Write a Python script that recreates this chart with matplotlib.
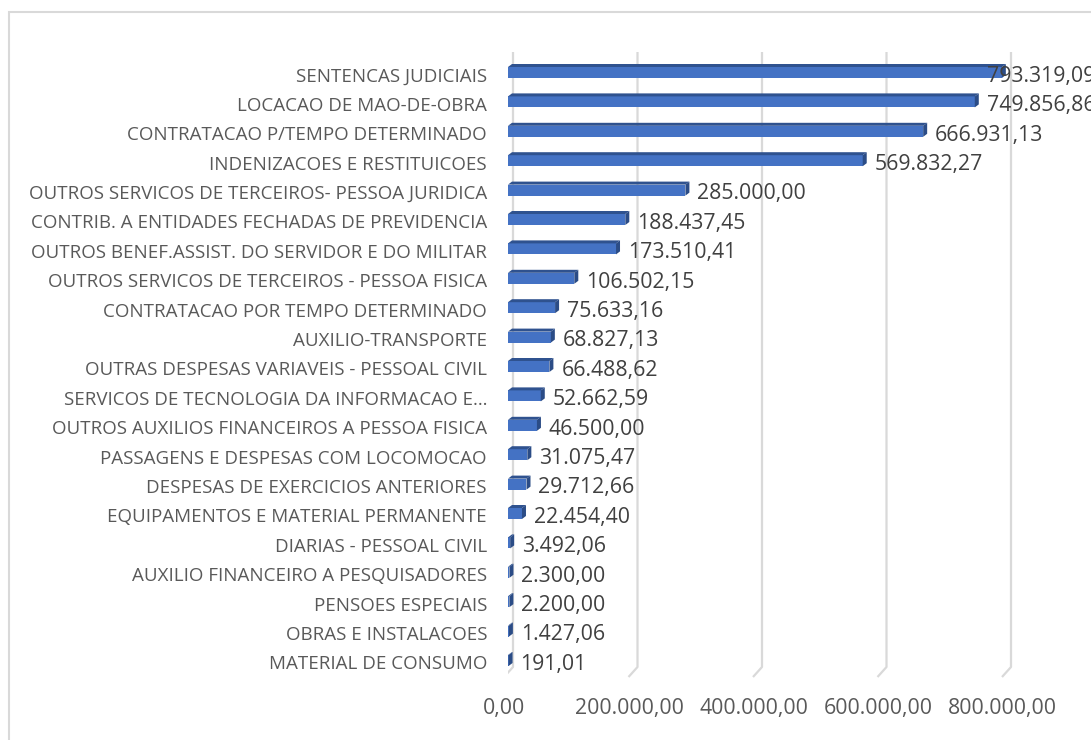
import matplotlib
matplotlib.use('Agg')
import matplotlib.pyplot as plt
from matplotlib.patches import Polygon, Rectangle
from matplotlib.transforms import ScaledTranslation

# --- datos ---
categorias = [
    'SENTENCAS JUDICIAIS',
    'LOCACAO DE MAO-DE-OBRA',
    'CONTRATACAO P/TEMPO DETERMINADO',
    'INDENIZACOES E RESTITUICOES',
    'OUTROS SERVICOS DE TERCEIROS- PESSOA JURIDICA',
    'CONTRIB. A ENTIDADES FECHADAS DE PREVIDENCIA',
    'OUTROS BENEF.ASSIST. DO SERVIDOR E DO MILITAR',
    'OUTROS SERVICOS DE TERCEIROS - PESSOA FISICA',
    'CONTRATACAO POR TEMPO DETERMINADO',
    'AUXILIO-TRANSPORTE',
    'OUTRAS DESPESAS VARIAVEIS - PESSOAL CIVIL',
    'SERVICOS DE TECNOLOGIA DA INFORMACAO E…',
    'OUTROS AUXILIOS FINANCEIROS A PESSOA FISICA',
    'PASSAGENS E DESPESAS COM LOCOMOCAO',
    'DESPESAS DE EXERCICIOS ANTERIORES',
    'EQUIPAMENTOS E MATERIAL PERMANENTE',
    'DIARIAS - PESSOAL CIVIL',
    'AUXILIO FINANCEIRO A PESQUISADORES',
    'PENSOES ESPECIAIS',
    'OBRAS E INSTALACOES',
    'MATERIAL DE CONSUMO',
]
valores = [793319.09, 749856.86, 666931.13, 569832.27, 285000.00, 188437.45,
           173510.41, 106502.15, 75633.16, 68827.13, 66488.62, 52662.59,
           46500.00, 31075.47, 29712.66, 22454.40, 3492.06, 2300.00,
           2200.00, 1427.06, 191.01]
ticks = [0, 200000, 400000, 600000, 800000]
tick_labels = ['0,00', '200.000,00', '400.000,00', '600.000,00', '800.000,00']


def fmt_br(v):
    s = f'{v:,.2f}'
    return s.replace(',', 'X').replace('.', ',').replace('X', '.')


W, H = 1091, 740
fig = plt.figure(figsize=(W / 100, H / 100), dpi=100)
plt.rcParams['font.family'] = ['Open Sans', 'DejaVu Sans']

# borde del grafico
fig.patches.append(Rectangle((8.5 / W, -0.02), 1.1, (H - 12) / H + 0.02,
                             transform=fig.transFigure, fill=False,
                             edgecolor='#D9D9D9', linewidth=1.5))

# eje: x px 508 = 0, y px 74 = cat 0, 29.4 px por categoria
x0px, ytop, ybot = 508, 40, 690
ax = fig.add_axes([x0px / W, 1 - ybot / H, (W - x0px) / W, (ybot - ytop) / H])
SX = 200000 / 124.5          # unidades por pixel en x
step = 29.4
ax.set_xlim(0, (W - x0px) * SX)
ax.set_ylim((ybot - 74) / step, (ytop - 74) / step)
for s in ax.spines.values():
    s.set_visible(False)
ax.set_yticks([])

# grilla 3D (pared trasera + piso inclinado)
gx = 5 * SX
y_top_g = (52 - 74) / step
y_bot_g = (667 - 74) / step
y_floor = (677 - 74) / step
for t in ticks:
    ax.plot([t + gx, t + gx, t + gx - 9 * SX], [y_top_g, y_bot_g, y_floor],
            color='#D9D9D9', linewidth=1.6, zorder=0, solid_capstyle='butt')

ax.set_xticks(ticks)
ax.set_xticklabels(tick_labels)
ax.tick_params(axis='x', length=0, labelsize=15.3, labelcolor='#595959', pad=6)
for lab in ax.get_xticklabels():
    lab.set_transform(lab.get_transform() + ScaledTranslation(-3.5 / 100, 0, fig.dpi_scale_trans))

# barras 3D
h = 11 / step
dx, dy = 4 * SX, 3 / step
c_front, c_top, c_side = '#4472C4', '#2F528F', '#2B4C86'
x_lab_max = 479 * SX        # Excel empuja la etiqueta para que quepa
for i, (cat, v) in enumerate(zip(categorias, valores)):
    yc = i - 1.5 / step
    yt, yb = yc - h / 2, yc + h / 2
    w = max(v, 900)
    ax.add_patch(Rectangle((0, yt), w, h, facecolor=c_front, edgecolor='none', zorder=3))
    ax.add_patch(Polygon([(0, yt), (dx, yt - dy), (w + dx, yt - dy), (w, yt)],
                         closed=True, facecolor=c_top, edgecolor='none', zorder=3))
    ax.add_patch(Polygon([(w, yt), (w + dx, yt - dy), (w + dx, yb - dy), (w, yb)],
                         closed=True, facecolor=c_side, edgecolor='none', zorder=3))
    ax.text(min(w + 12 * SX, x_lab_max), i + 0.08, fmt_br(v), ha='left', va='center',
            fontsize=15.3, color='#404040', zorder=4, clip_on=False)
    ax.text(-21 * SX, i + 0.08, cat, ha='right', va='center', fontsize=13.5,
            color='#595959', clip_on=False)

fig.savefig('out.png', dpi=100)
